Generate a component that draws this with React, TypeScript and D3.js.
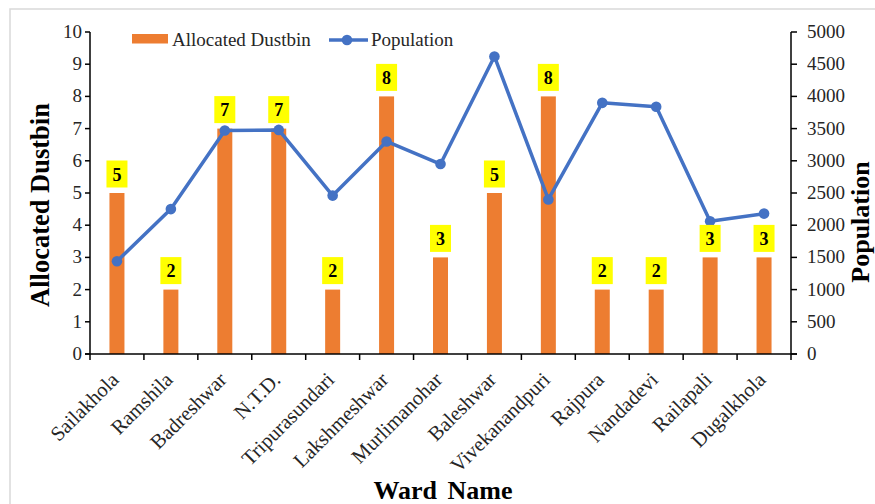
import React from "react";
import * as d3 from "d3";

const wards = [
  "Sailakhola", "Ramshila", "Badreshwar", "N.T.D.", "Tripurasundari", "Lakshmeshwar",
  "Murlimanohar", "Baleshwar", "Vivekanandpuri", "Rajpura", "Nandadevi", "Railapali", "Dugalkhola",
];
const dustbins = [5, 2, 7, 7, 2, 8, 3, 5, 8, 2, 2, 3, 3];
const population = [1440, 2250, 3470, 3480, 2460, 3300, 2950, 4620, 2400, 3900, 3840, 2060, 2180];
const leftTicks = [0, 1, 2, 3, 4, 5, 6, 7, 8, 9, 10];
const rightTicks = [0, 500, 1000, 1500, 2000, 2500, 3000, 3500, 4000, 4500, 5000];

const W = 875;
const H = 504;
const plot = { left: 90, right: 791, top: 32, bottom: 354 };
const FONT = "'Liberation Serif', 'Times New Roman', serif";
const ORANGE = "#ED7D31";
const BLUE = "#4472C4";

export default function App() {
  const x = d3.scaleBand<string>().domain(wards).range([plot.left, plot.right]);
  const yL = d3.scaleLinear().domain([0, 10]).range([plot.bottom, plot.top]);
  const yR = d3.scaleLinear().domain([0, 5000]).range([plot.bottom, plot.top]);
  const barW = 15;
  const cx = (w: string) => (x(w) as number) + x.bandwidth() / 2;

  const line = d3
    .line<number>()
    .x((_, i) => cx(wards[i]))
    .y((d) => yR(d));

  const bounds = wards.map((w) => x(w) as number).concat([plot.right]);

  return (
    <svg width={W} height={H} style={{ position: "absolute", left: 0, top: 0, background: "#fff" }} fontFamily={FONT}>
      <rect x={10} y={9} width={W + 20} height={H + 20} fill="#fff" stroke="#d9d9d9" strokeWidth={1.5} />

      {/* bars */}
      {dustbins.map((v, i) => (
        <rect key={"b" + i} x={cx(wards[i]) - barW / 2} y={yL(v)} width={barW} height={plot.bottom - yL(v)} fill={ORANGE} />
      ))}

      {/* population line */}
      <path d={line(population) || ""} fill="none" stroke={BLUE} strokeWidth={3.5} strokeLinejoin="round" />
      {population.map((v, i) => (
        <circle key={"p" + i} cx={cx(wards[i])} cy={yR(v)} r={5.3} fill={BLUE} />
      ))}

      {/* value labels */}
      {dustbins.map((v, i) => {
        const bx = cx(wards[i]);
        const bottom = yL(v) - 5.5;
        return (
          <g key={"l" + i}>
            <rect x={bx - 10.5} y={bottom - 27} width={21} height={27} fill="#FFFF00" />
            <text x={bx} y={bottom - 7} textAnchor="middle" fontSize={18} fontWeight="bold" fill="#000">
              {v}
            </text>
          </g>
        );
      })}

      {/* left axis */}
      <line x1={plot.left} x2={plot.left} y1={plot.top} y2={plot.bottom} stroke="#000" strokeWidth={1.5} />
      {leftTicks.map((t) => (
        <g key={"lt" + t}>
          <line x1={plot.left - 5} x2={plot.left} y1={yL(t)} y2={yL(t)} stroke="#000" strokeWidth={1.5} />
          <text x={82} y={yL(t) + 6} textAnchor="end" fontSize={19} fill="#262626">
            {t}
          </text>
        </g>
      ))}

      {/* right axis */}
      <line x1={plot.right} x2={plot.right} y1={plot.top} y2={plot.bottom} stroke="#000" strokeWidth={1.5} />
      {rightTicks.map((t) => (
        <g key={"rt" + t}>
          <line x1={plot.right} x2={plot.right + 6} y1={yR(t)} y2={yR(t)} stroke="#000" strokeWidth={1.5} />
          <text x={807} y={yR(t) + 6} textAnchor="start" fontSize={19} fill="#262626">
            {t}
          </text>
        </g>
      ))}

      {/* bottom axis */}
      <line x1={plot.left - 5} x2={plot.right + 6} y1={plot.bottom} y2={plot.bottom} stroke="#000" strokeWidth={1.5} />
      {bounds.map((b, i) => (
        <line key={"xt" + i} x1={b} x2={b} y1={plot.bottom} y2={plot.bottom + 6} stroke="#000" strokeWidth={1.5} />
      ))}
      {wards.map((w) => (
        <text
          key={"xl" + w}
          transform={`translate(${cx(w) + 3},${plot.bottom + 27}) rotate(-45)`}
          textAnchor="end"
          fontSize={20.5}
          fill="#262626"
        >
          {w}
        </text>
      ))}

      {/* axis titles */}
      <text transform="translate(49,205) rotate(-90)" textAnchor="middle" fontSize={26.5} fontWeight="bold" fill="#000">
        Allocated Dustbin
      </text>
      <text transform="translate(869,222) rotate(-90)" textAnchor="middle" fontSize={26} fontWeight="bold" fill="#000">
        Population
      </text>
      <text x={443} y={499} textAnchor="middle" fontSize={26} fontWeight="bold" fill="#000" wordSpacing={4}>
        Ward Name
      </text>

      {/* legend */}
      <rect x={132} y={34} width={36} height={9.5} fill={ORANGE} />
      <text x={172} y={46} fontSize={19} fill="#262626">
        Allocated Dustbin
      </text>
      <line x1={329} x2={368} y1={40} y2={40} stroke={BLUE} strokeWidth={3.5} />
      <circle cx={347} cy={40} r={5.3} fill={BLUE} />
      <text x={371} y={46} fontSize={19} fill="#262626">
        Population
      </text>
    </svg>
  );
}
